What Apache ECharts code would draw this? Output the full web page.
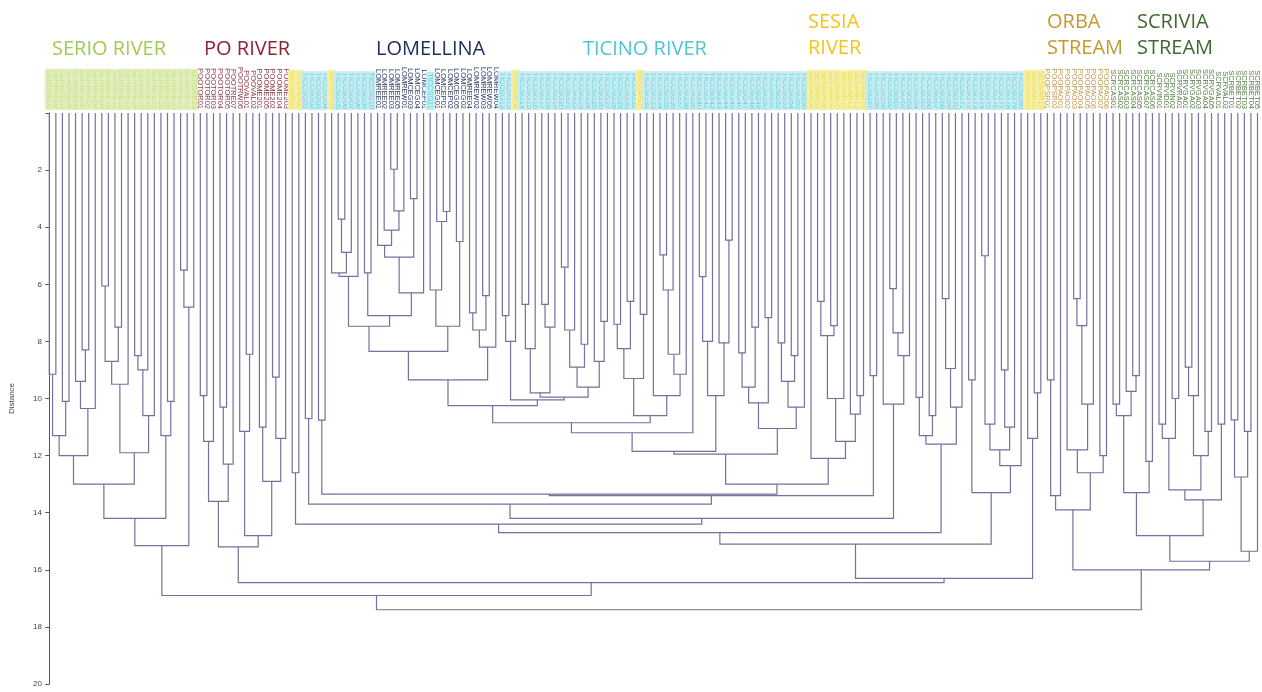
<!DOCTYPE html>
<html><head><meta charset="utf-8">
<script src="https://cdn.jsdelivr.net/npm/echarts@6/dist/echarts.min.js"></script>
<style>html,body{margin:0;padding:0;background:#fff}#c{width:1262px;height:692px}</style>
</head><body><div id="c"></div>
<script>
// ---------- DATA ----------
const groupRuns = [['SERIO',23],['PO',14],['SESIA',2],['TICINO',4],['SESIA',1],['TICINO',6],['LOM',8],['TICINO',1],['LOM',10],['TICINO',2],['SESIA',1],['TICINO',18],['SESIA',1],['TICINO',25],['SESIA',9],['TICINO',24],['SESIA',3],['ORBA',10],['SCRIVIA',23]];
const poNames = ['POOTOR01','POOTOR02','POOTOR03','POOTOR04','POOTOR05','POOTRE07','POOTRW06','POOVAL01','POOVAL02','POOME201','POOME205','POOME202','POOME204','POOME203'];
const lomNamesA = ['LOMREE01','LOMREE02','LOMREE03','LOMREE05','LOMREW01','LOMCEG03','LOMCEG04','LOMCEF01'];
const lomNamesB = ['LOMCEG01','LOMCEP01','LOMCEP02','LOMCEG05','LOMCEG02','LOMREE04','LOMREW02','LOMREW03','LOMREW05','LOMREW04'];
const orbaNames = ['POOPSR01','POOPSR02','POOPAO01','POOPAO02','POOPAO03','POOPAO04','POOPAO05','POOPAO06','POOPAO07','POOPAO08'];
const scriviaNames = ['SCRCAS01','SCRCAS02','SCRCAS03','SCRCAS04','SCRCAS05','SCRCAS07','SCRCAS06','SCRVIN01','SCRVID01','SCRVIN02','SCRVRA01','SCRVGA01','SCRVGA02','SCRVGA03','SCRVGA04','SCRVGA05','SCRVAL01','SCRVAL02','SCRBET01','SCRBET02','SCRBET03','SCRBET04','SCRBET05'];
const faintPrefix = {SERIO:'SERBRE', TICINO:'TICCSG', SESIA:'SESVAR'};

// tree pieces (leaf index : merge distance)
const S0_7 = "(((0,1):9.15,(2,3):10.1):11.3,((4,(5,6):8.3):9.4,7):10.35):12.0";
const S8_16 = "((((8,9):6.06,(10,11):7.5):8.7,12):9.5,(((13,14):8.5,15):9.0,16):10.6):11.9";
const Serio = "(((" + S0_7 + "," + S8_16 + "):13.0,(17,(18,19):10.1):11.3):14.2,((20,21):5.5,22):6.8):15.15";
const Po = "((((23,24):9.9,25):11.5,((26,27):10.3,28):12.3):13.6,((29,(30,31):8.45):11.15,((32,33):11.0,((34,35):9.25,36):11.4):12.9):14.8):15.2";
const Lom1 = "(((50,(51,((52,53):1.97,54):3.43):4.1):4.64,(55,56):3.0):5.05,57):6.3";
const LT1 = "(((43,((44,45):3.72,46):4.88):5.6,47):5.72,((48,49):5.6," + Lom1 + "):7.1):7.47";
const Lom2 = "((58,(59,(60,61):3.45):3.8):6.2,(62,63):4.5):7.47";
const LomTail = "(((64,65):7.0,(66,67):6.4):7.6,68):8.2";
const Lom = "((" + LT1 + "," + Lom2 + "):8.35," + LomTail + "):9.35";
const T69 = "((69,70):7.1,71):8.0";
const T72 = "(((72,73):6.7,74):8.25,((75,76):6.7,77):7.5):9.8";
const T78 = "((((78,79):5.4,80):7.6,(81,82):8.1):8.9,(83,(84,85):7.3):8.7):9.6";
const X69 = "(" + T69 + ",(" + T72 + "," + T78 + "):9.95):10.05";
const TicC = "((((86,87):7.4,(88,89):6.6):8.25,(90,91):7.05):9.3,(92,((((93,94):4.97,95):6.2,96):8.45,97):9.15):9.9):10.6";
const K1 = "(" + Lom + "," + X69 + "):10.25";
const K2 = "(" + K1 + "," + TicC + "):10.85";
const K3 = "(" + K2 + ",98):11.2";
const T99 = "(((99,100):5.73,101):8.0,(102,(103,104):4.45):8.05):9.9";
const G = "(" + K3 + "," + T99 + "):11.85";
const H = "((((105,106):8.4,(107,108):7.5):9.6,(109,110):7.17):10.15,(((111,112):8.05,(113,114):8.5):9.4,115):10.3):11.05";
const F = "(" + G + "," + H + "):11.95";
const SesB = "(116,((((117,118):6.6,(119,120):7.45):7.8,121):10.0,(122,(123,124):9.9):10.55):11.5):12.1";
const E = "(" + F + "," + SesB + "):13.0";
const D = "((41,42):10.76," + E + "):13.35";
const A3 = "(" + D + ",(125,126):9.2):13.4";
const A2 = "((39,40):10.7," + A3 + "):13.7";
const C = "(127,(((128,129):6.15,130):7.7,131):8.5):10.2";
const A1 = "(" + A2 + "," + C + "):14.2";
const A = "((37,38):12.6," + A1 + "):14.4";
const B = "(((132,133):9.96,(134,135):10.6):11.3,(((136,137):6.5,138):8.95,139):10.3):11.6";
const P1 = "(" + A + "," + B + "):14.7";
const P2 = "((140,141):9.35,((((142,143):5.0,144):10.9,((145,146):9.0,147):11.0):11.8,148):12.35):13.3";
const P = "(" + P1 + "," + P2 + "):15.1";
const Q = "(149,(150,151):9.8):11.4";
const N = "(" + P + "," + Q + "):16.3";
const M = "(" + Po + "," + N + "):16.45";
const L = "(" + Serio + "," + M + "):16.9";
const Orba = "(((152,153):9.35,154):13.4,((155,(((156,157):6.5,158):7.45,159):10.2):11.8,(160,161):12.0):12.6):13.9";
const S162a = "(((162,163):10.2,(164,(165,166):9.2):9.75):10.6,(167,168):12.2):13.3";
const S169 = "((((169,170):10.9,(171,172):10.0):11.4,(((173,174):8.9,175):9.9,(176,177):11.15):12.0):13.2,(178,179):10.9):13.55";
const S180 = "(((180,181):10.75,(182,183):11.15):12.75,184):15.35";
const Scrivia = "((" + S162a + "," + S169 + "):14.8," + S180 + "):15.7";
const R = "(" + Orba + "," + Scrivia + "):16.0";
const treeString = "(" + L + "," + R + "):17.4";

const yTicks = [0,2,4,6,8,10,12,14,16,18,20];

const groupStyle = {
  SERIO:  {color:'#c9df92', bg:'#e2efbb'},
  PO:     {color:'#8e3b4c', bg:null},
  SESIA:  {color:'#eedc5a', bg:'#f6f0a6'},
  TICINO: {color:'#6fd0da', bg:'#c4ecf1'},
  LOM:    {color:'#2c3a66', bg:null},
  ORBA:   {color:'#c39a4e', bg:null},
  SCRIVIA:{color:'#557d45', bg:null}
};
const titles = [
  {t:'SERIO RIVER', x:52, y:36, c:'#a2cb55'},
  {t:'PO RIVER', x:204, y:36, c:'#8c2232'},
  {t:'LOMELLINA', x:376, y:36, c:'#1f2d5c'},
  {t:'TICINO RIVER', x:583, y:36, c:'#4fc5d2'},
  {t:'SESIA\nRIVER', x:808, y:9, c:'#f4c41a'},
  {t:'ORBA\nSTREAM', x:1047, y:9, c:'#c39a2f'},
  {t:'SCRIVIA\nSTREAM', x:1137, y:9, c:'#3e6a2c'}
];

// ---------- BUILD ----------
const names = [], styles = [];
(function(){
  let po=0, orba=0, scr=0; const faintCount={SERIO:0,TICINO:0,SESIA:0};
  let lomPart = 0;
  groupRuns.forEach(([g,n])=>{
    if (g==='LOM') lomPart++;
    for (let k=0;k<n;k++){
      let nm;
      if (g==='PO') nm = poNames[po++];
      else if (g==='LOM') nm = (lomPart===1 ? lomNamesA : lomNamesB)[k];
      else if (g==='ORBA') nm = orbaNames[orba++];
      else if (g==='SCRIVIA') nm = scriviaNames[scr++];
      else { faintCount[g]++; nm = faintPrefix[g] + String(faintCount[g]).padStart(2,'0'); }
      names.push(nm); styles.push(g);
    }
  });
})();

function parseTree(s){
  let i=0;
  function num(){ const j=i; while(i<s.length && /[0-9.]/.test(s[i])) i++; return parseFloat(s.slice(j,i)); }
  function node(){
    if (s[i]==='('){
      i++; const kids=[node()];
      while(s[i]===','){ i++; kids.push(node()); }
      i++; let h=0; if (s[i]===':'){ i++; h=num(); }
      return {kids, h};
    }
    return {leaf:num(), h:0};
  }
  return node();
}
const segs = [];
function layout(n){
  if (n.leaf!==undefined){ n.x=n.leaf; return; }
  n.kids.forEach(layout);
  n.x = (n.kids[0].x + n.kids[n.kids.length-1].x)/2;
  for (let k=0;k<n.kids.length-1;k++){
    const a=n.kids[k], b=n.kids[k+1];
    segs.push([a.x, a.h, b.x, b.h, n.h]);
  }
}
layout(parseTree(treeString));

const chart = echarts.init(document.getElementById('c'), null, {renderer:'canvas'});
chart.setOption({
  animation:false,
  backgroundColor:'#fff',
  grid:{left:45, right:1, top:113, bottom:8},
  xAxis:[
    {type:'value', min:-0.5, max:names.length-0.5, show:false},
    {type:'category', position:'top', boundaryGap:true,
     data: names.map((nm,i)=>{ const st=groupStyle[styles[i]]; return {value:nm, textStyle:{color:st.color, backgroundColor: st.bg || 'transparent'}}; }),
     axisLine:{show:false}, axisTick:{show:false},
     axisLabel:{interval:0, rotate:90, fontSize:7.5, fontFamily:'Liberation Sans', margin:3, padding:[1,1,0,1]}}
  ],
  yAxis:{type:'value', inverse:true, min:yTicks[0], max:yTicks[yTicks.length-1], interval:2,
    name:'Distance', nameLocation:'middle', nameGap:30,
    nameTextStyle:{fontSize:8, color:'#444', fontFamily:'Liberation Sans'},
    axisLine:{show:true, lineStyle:{color:'#555', width:1}},
    axisTick:{show:true, length:4, lineStyle:{color:'#555'}},
    axisLabel:{fontSize:8, color:'#444', fontFamily:'Liberation Sans', margin:4, formatter:v=> v===0?'':String(v)},
    splitLine:{show:false}},
  graphic: titles.map(t=>({type:'text', left:t.x, top:t.y, style:{text:t.t, fill:t.c, font:'20px "Open Sans"', lineHeight:26}})),
  series:[{
    type:'custom', xAxisIndex:0, yAxisIndex:0, data:segs, encode:{x:[0,2], y:[1,3,4]},
    renderItem:(params, api)=>{
      const p1=api.coord([api.value(0),api.value(1)]);
      const p2=api.coord([api.value(0),api.value(4)]);
      const p3=api.coord([api.value(2),api.value(4)]);
      const p4=api.coord([api.value(2),api.value(3)]);
      return {type:'polyline', shape:{points:[p1,p2,p3,p4]}, style:{stroke:'#72729c', lineWidth:1.2, fill:null}};
    }
  }]
});
</script></body></html>
